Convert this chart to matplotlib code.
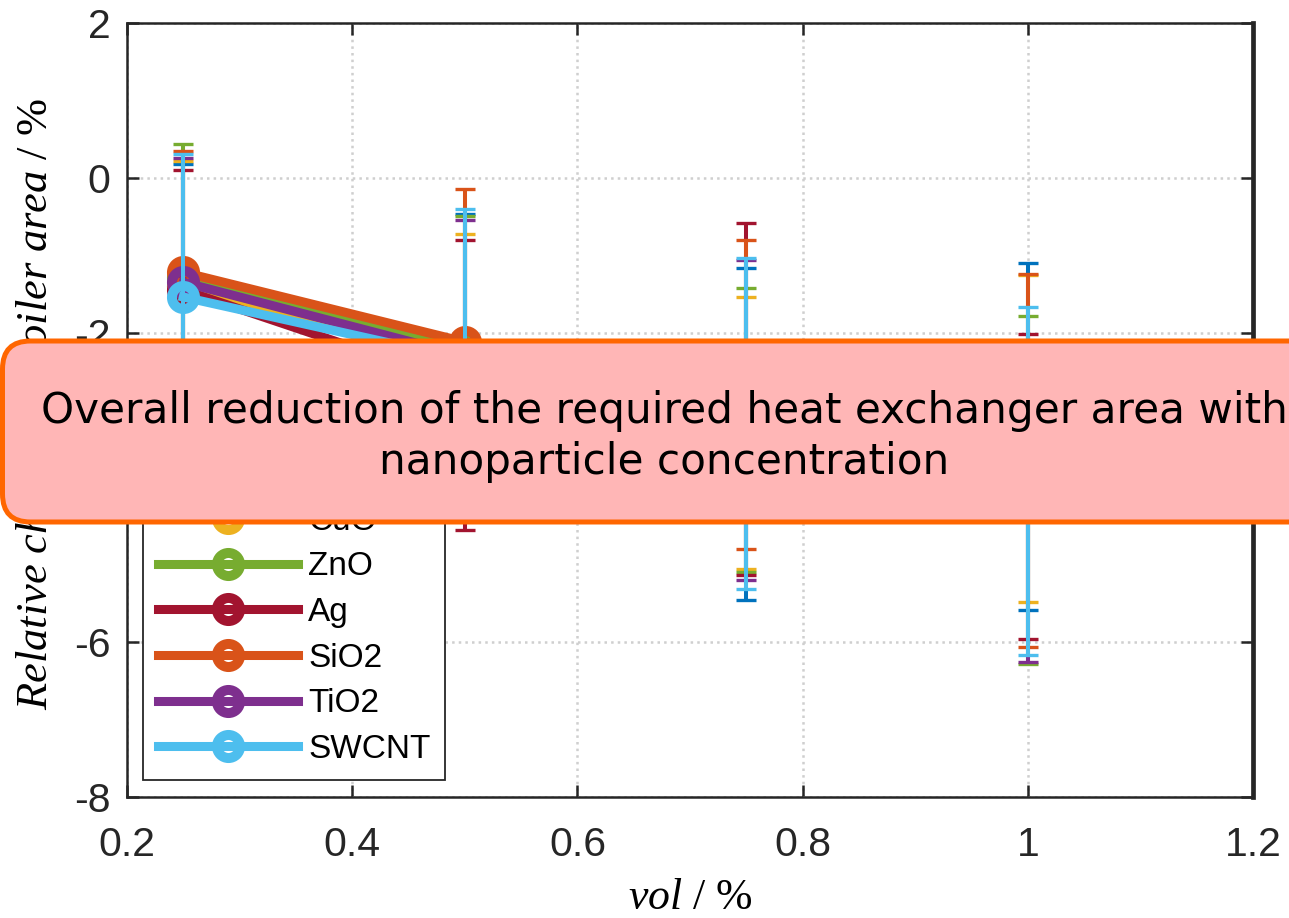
import matplotlib
matplotlib.use("Agg")
import matplotlib.pyplot as plt
from matplotlib.patches import FancyBboxPatch
from matplotlib.transforms import IdentityTransform

# ---- data -------------------------------------------------------------
vol = [0.25, 0.5, 0.75, 1.0]

fluids = ["Al2O3", "CuO", "ZnO", "Ag", "SiO2", "TiO2", "SWCNT"]
colors = ["#0072BD", "#EDB120", "#77AC30", "#A2142F", "#D95319", "#7E2F8E", "#4DBEEE"]

mean_al2o3 = [-1.40, -2.35, -3.305, -3.34]
err_al2o3 = [1.58, 1.88, 2.145, 2.24]

mean_cuo = [-1.40, -2.40, -3.30, -3.37]
err_cuo = [1.62, 1.68, 1.76, 2.11]

mean_zno = [-1.28, -2.20, -3.255, -4.03]
err_zno = [1.72, 1.71, 1.835, 2.25]

mean_ag = [-1.45, -2.675, -2.86, -3.99]
err_ag = [1.55, 1.875, 2.27, 1.97]

mean_sio2 = [-1.22, -2.12, -2.80, -3.65]
err_sio2 = [1.57, 1.98, 2.00, 2.41]

mean_tio2 = [-1.35, -2.30, -3.13, -4.23]
err_tio2 = [1.61, 1.76, 2.07, 2.03]

mean_swcnt = [-1.54, -2.35, -3.175, -3.915]
err_swcnt = [1.85, 1.95, 2.135, 2.245]

means = [mean_al2o3, mean_cuo, mean_zno, mean_ag, mean_sio2, mean_tio2, mean_swcnt]
errors = [err_al2o3, err_cuo, err_zno, err_ag, err_sio2, err_tio2, err_swcnt]

xticks = [0.2, 0.4, 0.6, 0.8, 1.0, 1.2]
xticklabels = ["0.2", "0.4", "0.6", "0.8", "1", "1.2"]
yticks = [-8, -6, -4, -2, 0, 2]
yticklabels = ["-8", "-6", "-4", "-2", "0", "2"]

note = "Overall reduction of the required heat exchanger area with"
note2 = "nanoparticle concentration"

# ---- style ------------------------------------------------------------
plt.rcParams["axes.unicode_minus"] = False
plt.rcParams["mathtext.fontset"] = "custom"
plt.rcParams["mathtext.it"] = "Liberation Serif:italic"
plt.rcParams["mathtext.rm"] = "Liberation Serif"

AX_COLOR = "#262626"

W, H = 1289, 918
fig = plt.figure(figsize=(W / 100, H / 100), dpi=100)
ax = fig.add_axes([127 / W, (H - 797) / H, 1126 / W, 774 / H])

containers = []
for i, (m, e, c, name) in enumerate(zip(means, errors, colors, fluids)):
    cont = ax.errorbar(
        vol, m, yerr=e, color=c, lw=6.5,
        marker="o", ms=16.6, mfc="none", mec=c,
        elinewidth=2.9, capsize=7.2, capthick=2.4,
        barsabove=True, zorder=3 + i, label=name,
    )
    # thick ring only on the data markers, not on the error-bar caps
    cont[0].set_markeredgewidth(7.2)
    containers.append(cont)

ax.set_xlim(0.2, 1.2)
ax.set_ylim(-8, 2)
ax.set_xticks(xticks)
ax.set_xticklabels(xticklabels)
ax.set_yticks(yticks)
ax.set_yticklabels(yticklabels)

for lab in ax.get_xticklabels() + ax.get_yticklabels():
    lab.set_fontfamily("Liberation Sans")
    lab.set_fontsize(29.5)
    lab.set_color(AX_COLOR)

ax.tick_params(direction="in", length=8.6, width=1.8, color=AX_COLOR,
               top=True, right=True)
ax.tick_params(axis="x", pad=21)
ax.tick_params(axis="y", pad=12)

for side, sp in ax.spines.items():
    sp.set_color(AX_COLOR)
    sp.set_linewidth(3.4 if side == "right" else 1.8)

ax.set_axisbelow(True)
ax.grid(True, color="#cfcfcf", linestyle=":", linewidth=1.8)

ax.set_xlabel(r"$\mathit{vol}$ / %", fontfamily="Liberation Serif",
              fontsize=31.5, color="black")
ax.xaxis.set_label_coords(0.5, (797 - 909) / 774)
ax.xaxis.label.set_va("baseline")

ax.set_ylabel(r"$\mathit{Relative\ change\ in\ boiler\ area}$ / %",
              fontfamily="Liberation Serif", fontsize=32, color="black")
ax.yaxis.set_label_coords((47 - 127) / 1126, 0.508)
ax.yaxis.label.set_va("baseline")

leg = ax.legend(
    [c[0] for c in containers], fluids,
    loc="lower left", bbox_to_anchor=((143 - 127) / 1126, (797 - 780) / 774),
    bbox_transform=ax.transAxes, borderaxespad=0,
    prop={"family": "Liberation Sans", "size": 24},
    handlelength=4.2, handletextpad=0.3, labelspacing=0.44, borderpad=0.45,
    fancybox=False, framealpha=1, edgecolor=AX_COLOR, facecolor="white",
    numpoints=1,
)
leg.get_frame().set_linewidth(1.3)
leg.set_zorder(20)

# ---- callout banner across the middle -------------------------------
banner = FancyBboxPatch(
    (2.5, H - 522), 1400, 522 - 341,
    boxstyle="round,pad=0,rounding_size=28",
    facecolor="#FFB6B6", edgecolor="#FF6600", linewidth=3.6,
    transform=IdentityTransform(), zorder=30,
)
fig.add_artist(banner)
fig.text(664, H - 423, note, transform=IdentityTransform(), ha="center",
         va="baseline", fontfamily="DejaVu Sans", fontsize=30.3,
         color="black", zorder=31)
fig.text(664, H - 474, note2, transform=IdentityTransform(), ha="center",
         va="baseline", fontfamily="DejaVu Sans", fontsize=30.3,
         color="black", zorder=31)

fig.savefig("out.png", dpi=100)
